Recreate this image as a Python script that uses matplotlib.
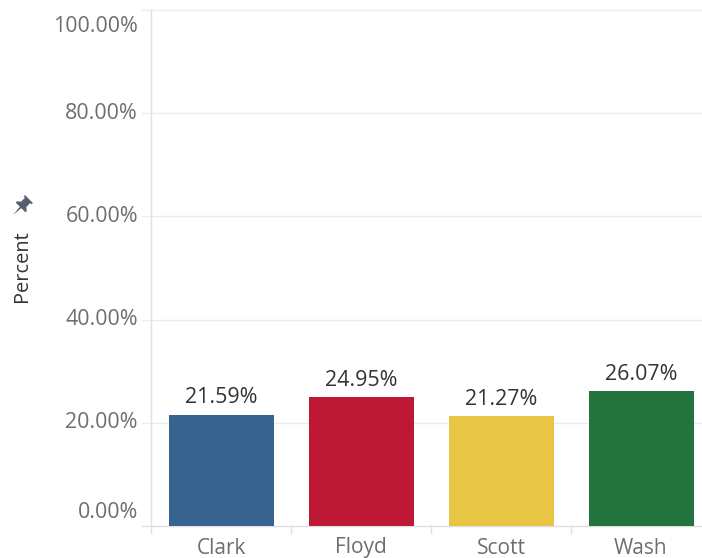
import matplotlib
matplotlib.use("Agg")
import math
import matplotlib.pyplot as plt
from matplotlib.patches import Polygon

# Share of total by county
categories = ["Clark", "Floyd", "Scott", "Wash"]
percent = [21.59, 24.95, 21.27, 26.07]
bar_colors = ["#37638f", "#bd1934", "#e9c545", "#23733f"]
ytick_values = [0, 20, 40, 60, 80, 100]
ytick_labels = ["0.00%", "20.00%", "40.00%", "60.00%", "80.00%", "100.00%"]

W, H = 702, 558
DPI = 100
PT = 72.0 / DPI  # points per pixel
plt.rcParams["font.family"] = ["Open Sans", "DejaVu Sans"]

fig = plt.figure(figsize=(W / DPI, H / DPI), dpi=DPI)
fig.patch.set_facecolor("white")

# axes placed in pixel units (left, right, bottom, top)
x0, x1 = 151, 711
y_bot, y_top = 526, 10
ax = fig.add_axes([x0 / W, (H - y_bot) / H, (x1 - x0) / W, (y_bot - y_top) / H])
ax.set_xlim(-0.5, len(categories) - 0.5)
ax.set_ylim(0, 100)
ax.axis("off")

grid_c = "#ececec"
axis_c = "#e0e0e0"
px = 1.0 / (x1 - x0)  # one pixel in axes-x fraction
py = 1.0 / (y_bot - y_top)
ytr = ax.get_yaxis_transform()
xtr = ax.get_xaxis_transform()

# horizontal gridlines with short left ticks
for v in ytick_values[1:]:
    ax.plot([-9 * px, 1], [v, v], transform=ytr, color=grid_c, lw=1.0,
            clip_on=False, zorder=0)
# zero line
ax.plot([-9 * px, 1], [0, 0], transform=ytr, color=axis_c, lw=1.0,
        clip_on=False, zorder=0)
# vertical axis line
ax.plot([0, 0], [-7 * py, 1], transform=ax.transAxes, color=axis_c, lw=1.0,
        clip_on=False, zorder=0)
# category dividers below the baseline
for i in range(1, len(categories)):
    ax.plot([i - 0.5, i - 0.5], [0, -7 * py], transform=xtr, color=axis_c,
            lw=1.0, clip_on=False, zorder=0)

FS = 15.4

# y tick labels (end labels nudged inside the axis range)
for v, lab in zip(ytick_values, ytick_labels):
    off = 14 if v == 0 else (-16 if v == 100 else 0)
    ax.annotate(lab, xy=(-13 * px, v), xycoords=ytr, xytext=(0, off * PT),
                textcoords="offset points", ha="right", va="center",
                fontsize=FS, color="#6e6e6e", annotation_clip=False)

# bars
xs = list(range(len(categories)))
ax.bar(xs, percent, width=0.75, color=bar_colors, zorder=2)

# value labels
for x, v in zip(xs, percent):
    ax.annotate(f"{v:.2f}%", xy=(x, v), xytext=(0, 17 * PT), textcoords="offset points",
                ha="center", va="center", fontsize=FS, color="#333333")

# category labels
for x, c in zip(xs, categories):
    ax.annotate(c, xy=(x, 0), xycoords=xtr, xytext=(0, -22 * PT),
                textcoords="offset points", ha="center", va="center",
                fontsize=15.0, color="#6e6e6e", annotation_clip=False)

# axis title
fig.text(22 / W, 1 - 266 / H, "Percent", rotation=90, ha="center", va="center",
         fontsize=14.4, color="#333333")

# pushpin glyph beside the title: drawn upright, then tilted 45 degrees
pin_up = [(-4.5, 9), (4.5, 9), (4.5, 7.5), (3, 7.5), (3, 3), (5.5, 1), (5.5, -0.5),
          (0.8, -0.5), (0, -9), (-0.8, -0.5), (-5.5, -0.5), (-5.5, 1), (-3, 3),
          (-3, 7.5), (-4.5, 7.5)]
th = math.radians(-45)
scale = 1.25
cx, cy = 21, 207
pin_pts = []
for dx, dy in pin_up:
    dx, dy = dx * scale, dy * scale
    rx = dx * math.cos(th) - dy * math.sin(th)
    ry = dx * math.sin(th) + dy * math.cos(th)
    pin_pts.append(((cx + rx) / W, (H - cy + ry) / H))
fig.patches.append(Polygon(pin_pts, closed=True, transform=fig.transFigure,
                           facecolor="#56606c", edgecolor="none"))

fig.savefig("out.png", dpi=DPI, facecolor="white")
